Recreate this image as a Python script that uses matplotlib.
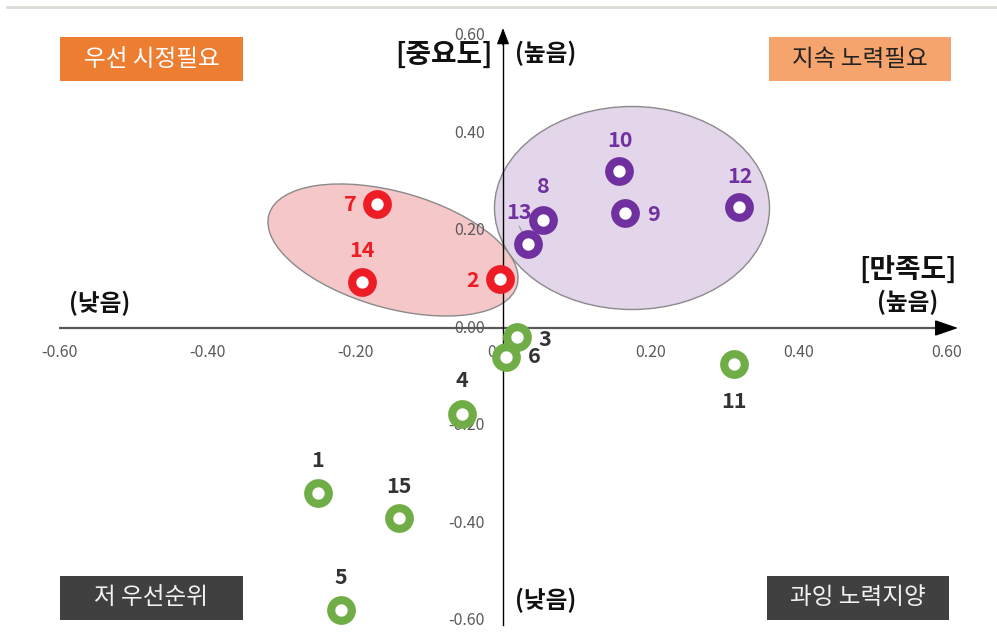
import matplotlib
matplotlib.use("Agg")
import matplotlib.pyplot as plt
from matplotlib.patches import Ellipse, Rectangle
from matplotlib.transforms import Affine2D

plt.rcParams['font.family'] = ['Noto Sans CJK KR', 'DejaVu Sans']

# ---- data ----
ids = [1, 2, 3, 4, 5, 6, 7, 8, 9, 10, 11, 12, 13, 14, 15]
satisfaction = [-0.250, -0.004, 0.019, -0.055, -0.219, 0.004, -0.170, 0.054,
                0.165, 0.157, 0.312, 0.319, 0.034, -0.191, -0.141]
importance = [-0.338, 0.101, -0.018, -0.176, -0.578, -0.059, 0.254, 0.222,
              0.236, 0.322, -0.074, 0.248, 0.172, 0.094, -0.390]
groups = ['g', 'r', 'g', 'g', 'g', 'g', 'r', 'p', 'p', 'p', 'g', 'p', 'p', 'r', 'g']
tick_values = [-0.60, -0.40, -0.20, 0.00, 0.20, 0.40, 0.60]
quadrant_labels = ['우선 시정필요', '지속 노력필요', '저 우선순위', '과잉 노력지양']

# label offsets in pixels (dx, dy up)
label_offsets = {1: (0, 32), 2: (-27, -2), 3: (28, -3), 4: (0, 33), 5: (0, 32),
                 6: (28, 0), 7: (-27, 0), 8: (0, 33), 9: (28, -2), 10: (1, 31),
                 11: (0, -37), 12: (1, 31), 13: (-9, 32), 14: (0, 32), 15: (0, 32)}

marker_colors = {'r': '#EE1C25', 'p': '#7030A0', 'g': '#70AD47'}
label_colors = {'r': '#EE1C25', 'p': '#7030A0', 'g': '#333333'}

W, H = 997, 644
X0, SX = 503, 740.0      # pixel of x=0, px per unit
Y0, SY = 328, 487.5      # pixel of y=0, px per unit

fig = plt.figure(figsize=(W / 100, H / 100), dpi=100)
ax = fig.add_axes([0, 0, 1, 1])
ax.set_xlim(-X0 / SX, (W - X0) / SX)
ax.set_ylim(-(H - Y0) / SY, Y0 / SY)
ax.axis('off')

def px2x(px):
    return (px - X0) / SX

def py2y(py):
    return (Y0 - py) / SY

# top decorative line
ax.plot([px2x(7), px2x(997)], [py2y(7), py2y(7)], color='#dcdcd6', lw=2, zorder=1)

# group ellipses (pixel sized, drawn through data transform)
def add_ellipse(cx, cy, wpx, hpx, ang, fc):
    e = Ellipse((0, 0), wpx, hpx, angle=ang, facecolor=fc, edgecolor='#8a8a8a', lw=1.0)
    e.set_transform(Affine2D().scale(1 / SX, 1 / SY).translate(cx, cy) + ax.transData)
    e.set_zorder(2)
    ax.add_patch(e)

add_ellipse(px2x(393), py2y(250), 258, 116, -15.9, '#F5C7C8')
add_ellipse(px2x(632), py2y(208), 275, 203, 0, '#E3D6EA')

# axes lines
ax.plot([-0.6, px2x(940)], [0, 0], color='#595959', lw=1.6, zorder=3, solid_capstyle='butt')
ax.annotate('', xy=(px2x(958), 0), xytext=(px2x(936), 0),
            arrowprops=dict(arrowstyle='-|>,head_length=1.45,head_width=0.5',
                            color='black', lw=1.0, shrinkA=0, shrinkB=0, mutation_scale=10),
            zorder=4)
ax.plot([0, 0], [py2y(625), py2y(42)], color='black', lw=1.0, zorder=3)
ax.annotate('', xy=(0, py2y(28)), xytext=(0, py2y(45)),
            arrowprops=dict(arrowstyle='-|>,head_length=1.0,head_width=0.38',
                            color='black', lw=0.9, shrinkA=0, shrinkB=0, mutation_scale=10),
            zorder=4)

# tick labels
for v in tick_values:
    ax.text(v, py2y(352), f'{v:.2f}', ha='center', va='center', fontsize=11.5,
            color='#595959', zorder=3)
    ax.text(px2x(485), v, f'{v:.2f}', ha='right', va='center', fontsize=11.5,
            color='#595959', zorder=3)

# axis titles
ax.text(px2x(444), py2y(55), '[중요도]', ha='center', va='center', fontsize=20,
        fontweight='bold', color='#111111', zorder=5)
ax.text(px2x(546), py2y(53), '(높음)', ha='center', va='center', fontsize=17,
        fontweight='bold', color='#111111', zorder=5)
ax.text(px2x(908), py2y(270), '[만족도]', ha='center', va='center', fontsize=20,
        fontweight='bold', color='#111111', zorder=5)
ax.text(px2x(908), py2y(302), '(높음)', ha='center', va='center', fontsize=17,
        fontweight='bold', color='#111111', zorder=5)
ax.text(px2x(100), py2y(303), '(낮음)', ha='center', va='center', fontsize=17,
        fontweight='bold', color='#111111', zorder=5)
ax.text(px2x(546), py2y(600), '(낮음)', ha='center', va='center', fontsize=17,
        fontweight='bold', color='#111111', zorder=5)

# quadrant boxes
boxes = [(60, 37, 243, 81, '#ED7D31', 'white'),
         (769, 37, 951, 81, '#F4A46C', '#222222'),
         (60, 576, 243, 620, '#404040', '#f2f2f2'),
         (767, 576, 949, 620, '#404040', '#f2f2f2')]
for (x1, y1, x2, y2, fc, tc), txt in zip(boxes, quadrant_labels):
    ax.add_patch(Rectangle((px2x(x1), py2y(y2)), (x2 - x1) / SX, (y2 - y1) / SY,
                           facecolor=fc, edgecolor='none', zorder=5))
    ax.text(px2x((x1 + x2) / 2), py2y((y1 + y2) / 2), txt, ha='center', va='center',
            fontsize=17, fontweight='medium', color=tc, zorder=6)

# leader line for 13
i13 = ids.index(13)
ax.annotate('', xy=(satisfaction[i13], importance[i13]), xytext=(-9, 18),
            textcoords='offset pixels',
            arrowprops=dict(arrowstyle='-', color='#9a9a9a', lw=0.8, shrinkA=0, shrinkB=0),
            zorder=6)

# markers
for gid in ['r', 'p', 'g']:
    xs = [satisfaction[i] for i in range(len(ids)) if groups[i] == gid]
    ys = [importance[i] for i in range(len(ids)) if groups[i] == gid]
    ax.plot(xs, ys, 'o', ms=14.8, mew=5.9, mfc='white', mec=marker_colors[gid],
            linestyle='none', zorder=7)

# point labels
for i, n in enumerate(ids):
    dx, dy = label_offsets[n]
    ax.annotate(str(n), (satisfaction[i], importance[i]), xytext=(dx, dy),
                textcoords='offset pixels', ha='center', va='center', fontsize=15.5,
                fontweight='bold', color=label_colors[groups[i]], zorder=8)

fig.savefig('out.png', dpi=100)
